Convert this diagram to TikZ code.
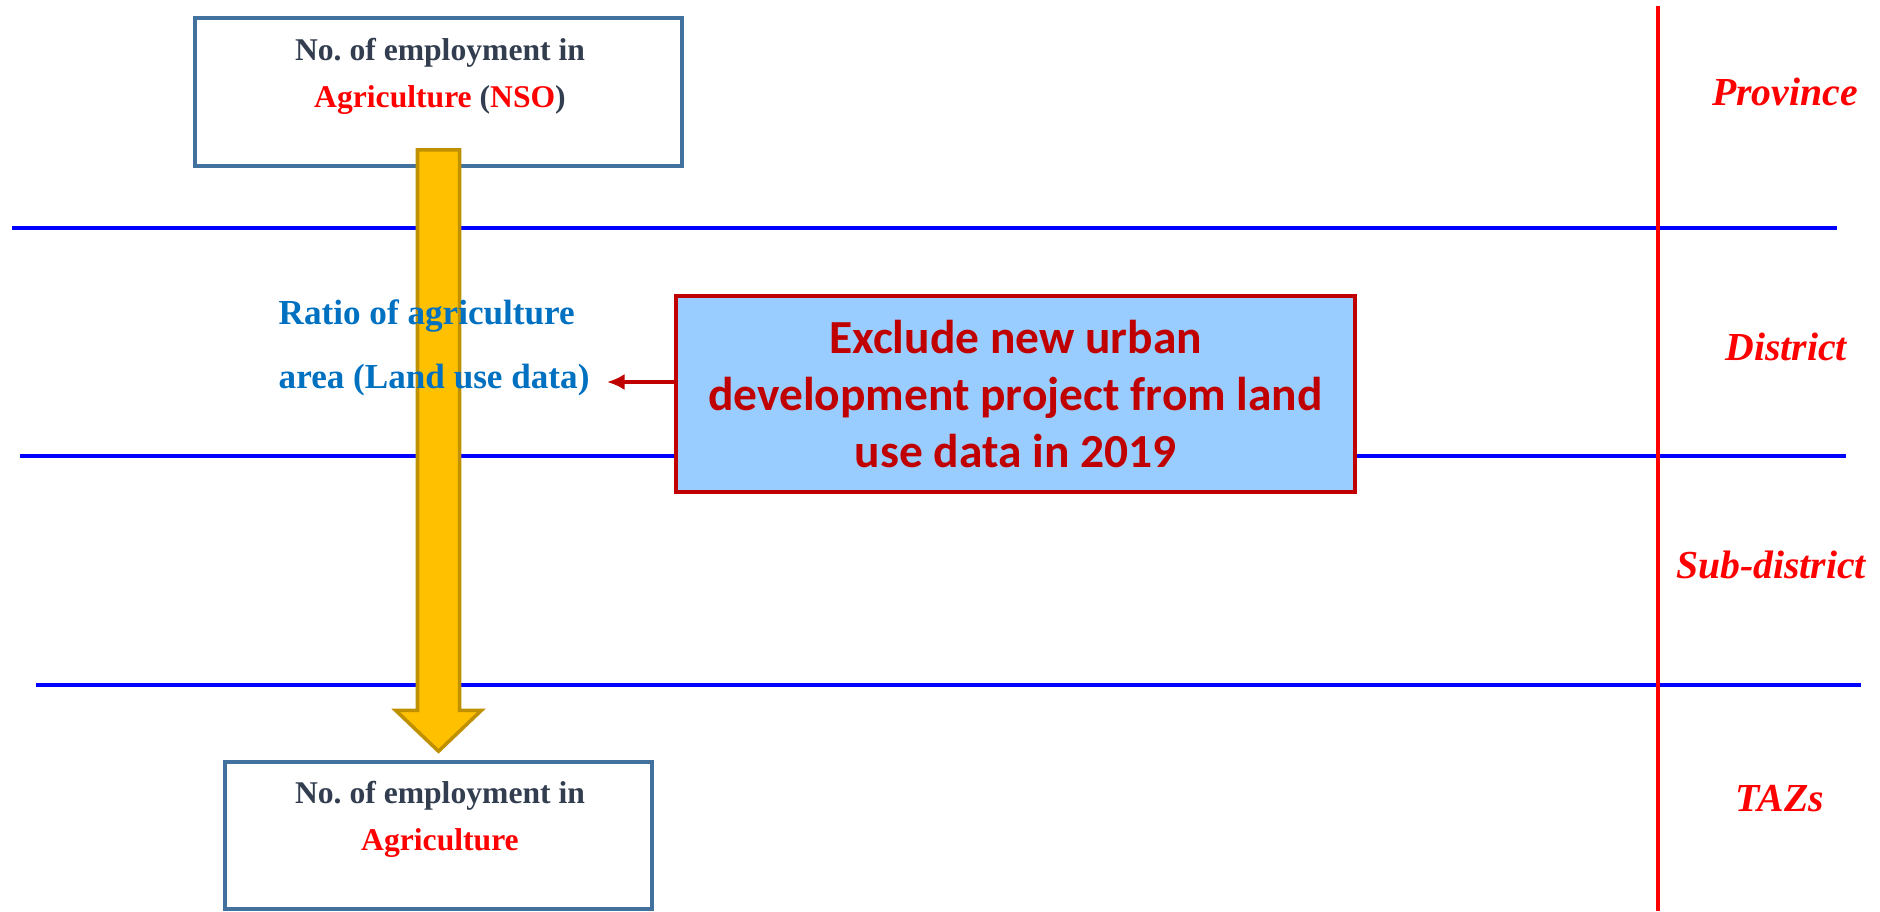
\documentclass[tikz,border=0pt]{standalone}
\usepackage{fontspec}
\setmainfont{Liberation Serif}
\newfontfamily\calibri{Carlito}
\usetikzlibrary{arrows.meta,calc}
\definecolor{boxblue}{HTML}{41719C}
\definecolor{textdark}{HTML}{323E4F}
\definecolor{ratioblue}{HTML}{0070C0}
\definecolor{darkred}{HTML}{C00000}
\definecolor{fatyellow}{HTML}{FFC000}
\definecolor{fatedge}{HTML}{BF9000}
\definecolor{lightfill}{HTML}{99CCFF}
\frenchspacing
\begin{document}
\begin{tikzpicture}[
  levelbox/.style={draw=boxblue, line width=1pt, inner sep=0pt},
  boxtext/.style={anchor=base, align=center, inner sep=0pt, text=textdark,
    font=\bfseries\fontsize{9}{13.3}\selectfont},
  layer/.style={anchor=base, text=red, font=\bfseries\itshape\fontsize{11.3}{13}\selectfont},
  sep/.style={blue, line width=1.1pt},
  fatarrow/.style={fill=fatyellow, draw=fatedge, line width=1pt, line join=miter},
  pointer/.style={darkred, line width=1.2pt, -{Latex[length=5pt,width=4.6pt]}}
]
\useasboundingbox (0,0) rectangle (18.80,9.11);
% layer lines
\draw[sep] (0.12,6.83) -- (18.37,6.83);
\draw[sep] (0.20,4.55) -- (18.46,4.55);
\draw[sep] (0.36,2.26) -- (18.61,2.26);
\draw[red, line width=1pt] (16.58,9.05) -- (16.58,0);
\node[layer] (prov) at (17.85,8.06) {Province};
\node[layer] (dist) at (17.86,5.51) {District};
\node[layer] (subdist) at (17.71,3.33) {Sub-district};
\node[layer] (taz) at (17.80,1.00) {TAZs};
% employment boxes
\node[levelbox, minimum width=4.87cm, minimum height=1.48cm] (topbox) at (4.385,8.19) {};
\node[levelbox, minimum width=4.27cm, minimum height=1.47cm] (botbox) at (4.385,0.755) {};
\node[boxtext] (toptext) at (4.40,8.04) {No. of employment in\\\textcolor{red}{Agriculture} (\textcolor{red}{NSO})};
\node[boxtext] (bottext) at (4.40,0.61) {No. of employment in\\\textcolor{red}{Agriculture}};
% big arrow
\coordinate (ftop) at ($(topbox.south)+(0,0.18)$);
\coordinate (ftip) at ($(botbox.north)+(0,0.09)$);
\draw[fatarrow] ($(ftop)+(-0.21,0)$) -- ($(ftop)+(0.21,0)$) -- ($(ftip)+(0.21,0.41)$)
  -- ($(ftip)+(0.43,0.41)$) -- (ftip) -- ($(ftip)+(-0.43,0.41)$)
  -- ($(ftip)+(-0.21,0.41)$) -- cycle;
% ratio and exclusion
\node[anchor=base west, align=left, inner sep=0pt, text=ratioblue,
  font=\bfseries\fontsize{10}{18.1}\selectfont] (ratio) at (2.78,5.23)
  {Ratio of agriculture\\area (Land use data)};
\node[draw=darkred, fill=lightfill, line width=1pt, align=center, text=darkred,
  minimum width=6.79cm, minimum height=1.96cm, inner sep=0pt,
  font=\calibri\bfseries\fontsize{13.5}{16.1}\selectfont] (excl) at (10.155,5.17)
  {Exclude new urban\\development project from land\\use data in 2019};
\coordinate (ratiotip) at (6.07,5.29);
\draw[pointer] (excl.west |- ratiotip) -- (ratiotip);
\end{tikzpicture}
\end{document}
